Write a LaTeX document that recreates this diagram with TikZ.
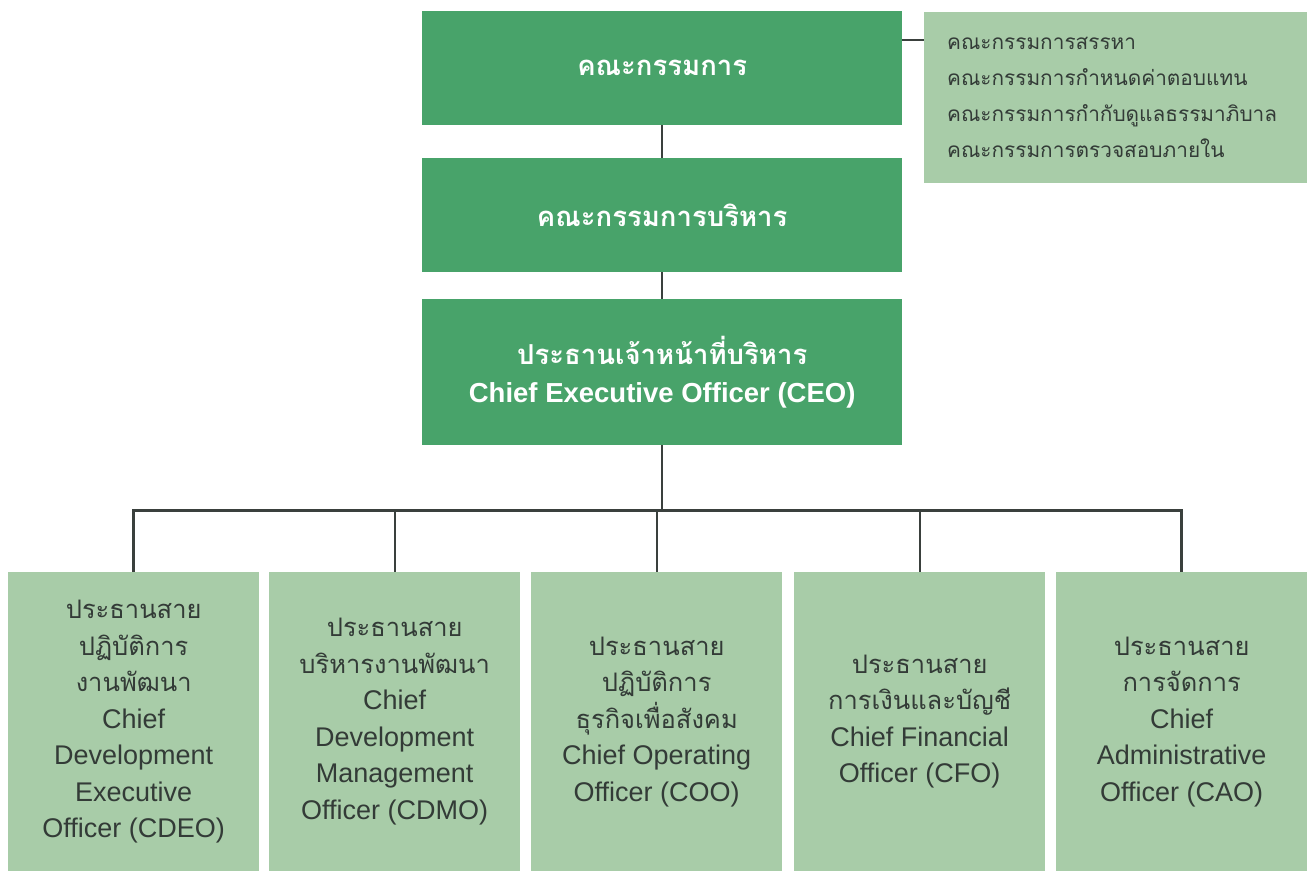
\documentclass[tikz,border=0pt]{standalone}
\usepackage{fontspec}
\setmainfont{Liberation Sans}
\newfontfamily\thai[Script=Thai]{Loma}
\newcommand\thl[1]{{\thai\fontsize{25.5}{36.5}\selectfont #1}}
\definecolor{dkgreen}{HTML}{48A36A}
\definecolor{ltgreen}{HTML}{A8CCA8}
\definecolor{txtdark}{HTML}{333B37}
\definecolor{linecol}{HTML}{3A403D}
\tikzset{
  darkbox/.style={fill=dkgreen, draw=none, anchor=north west, inner sep=0pt,
    minimum width=480pt, text=white, align=center, font=\bfseries\fontsize{27.5}{38}\selectfont},
  lightbox/.style={fill=ltgreen, draw=none, anchor=north west, inner sep=0pt,
    minimum width=251pt, minimum height=299pt, text=txtdark, align=center,
    font=\fontsize{27}{36.5}\selectfont},
  commbox/.style={fill=ltgreen, draw=none, anchor=north west, inner sep=0pt,
    minimum width=383pt, minimum height=171pt},
  commtext/.style={anchor=west, align=left, text=txtdark, inner sep=0pt,
    font=\thai\fontsize{20.8}{35.8}\selectfont},
  conn/.style={draw=linecol, line width=2.2pt},
}
\begin{document}
\begin{tikzpicture}[x=1pt,y=-1pt]
\useasboundingbox (0,0) rectangle (1311,871);
% top boxes
\node[darkbox, minimum height=114pt] (board) at (422,11) {\thai คณะกรรมการ};
\node[darkbox, minimum height=114pt] (exec) at (422,158) {\thai คณะกรรมการบริหาร};
\node[darkbox, minimum height=146pt] (ceo) at (422,299) {{\thai ประธานเจ้าหน้าที่บริหาร}\\Chief Executive Officer (CEO)};
% committees
\node[commbox] (comm) at (924,12) {};
\node[commtext] (commt) at (947,97.5) {คณะกรรมการสรรหา\\คณะกรรมการกำหนดค่าตอบแทน\\คณะกรรมการกำกับดูแลธรรมาภิบาล\\คณะกรรมการตรวจสอบภายใน};
% bottom boxes
\node[lightbox] (b1) at (8,572) {\thl{ประธานสาย}\\\thl{ปฏิบัติการ}\\\thl{งานพัฒนา}\\Chief\\Development\\Executive\\Officer (CDEO)};
\node[lightbox] (b2) at (269,572) {\thl{ประธานสาย}\\\thl{บริหารงานพัฒนา}\\Chief\\Development\\Management\\Officer (CDMO)};
\node[lightbox] (b3) at (531,572) {\thl{ประธานสาย}\\\thl{ปฏิบัติการ}\\\thl{ธุรกิจเพื่อสังคม}\\Chief Operating\\Officer (COO)};
\node[lightbox] (b4) at (794,572) {\thl{ประธานสาย}\\\thl{การเงินและบัญชี}\\Chief Financial\\Officer (CFO)};
\node[lightbox] (b5) at (1056,572) {\thl{ประธานสาย}\\\thl{การจัดการ}\\Chief\\Administrative\\Officer (CAO)};
% connectors
\coordinate (bus) at (659,510);
\draw[conn] (board.south) -- (exec.north);
\draw[conn] (exec.south) -- (ceo.north);
\draw[conn] (ceo.south) -- (ceo.south |- bus);
\draw[conn, line width=3pt] (b1.north) -- (b1.north |- bus) -| (b5.north);
\foreach \i in {2,3,4} { \draw[conn] (b\i.north |- bus) -- (b\i.north); }
\draw[conn] ([yshift=-29pt]board.north east) -- ([yshift=-29pt]board.north east -| comm.west);
\end{tikzpicture}
\end{document}
